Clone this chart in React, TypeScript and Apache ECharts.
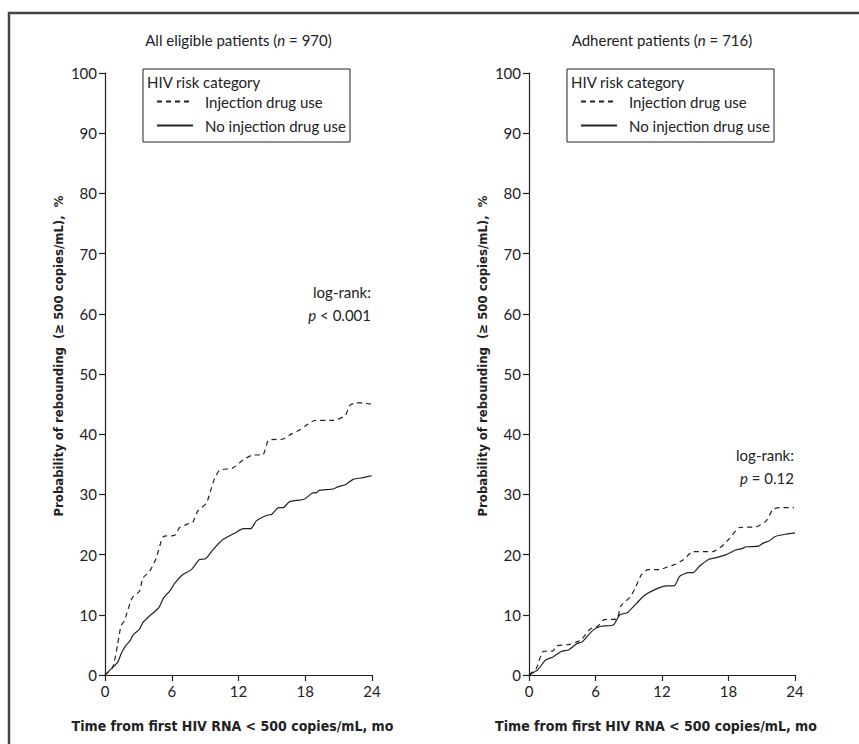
import React, { useEffect, useRef } from "react";
import * as echarts from "echarts";

// Time (months) / probability of rebounding (%)
const allIdu: [number, number][] = [
  [0, 0], [0.7, 1.3], [1.14, 5.1], [1.44, 8.2], [1.74, 9.0], [2.44, 12.8], [3.1, 13.9], [3.4, 16.1],
  [4.0, 17.2], [4.6, 19.4], [5.26, 23.0], [6.26, 23.2], [6.7, 24.5], [7.6, 25.2], [7.9, 25.4],
  [8.36, 27.3], [9.1, 28.5], [9.56, 31.0], [9.86, 32.7], [10.3, 34.0], [11.5, 34.4], [12.4, 35.7],
  [13.2, 36.5], [14.2, 36.6], [14.7, 39.0], [16.0, 39.2], [16.8, 40.1], [17.5, 40.7], [18.1, 41.5],
  [18.9, 42.3], [20.5, 42.3], [21.6, 43.1], [22.0, 44.8], [22.6, 45.2], [23.2, 45.2], [23.9, 45.0],
];
const allNoIdu: [number, number][] = [
  [0, 0], [0.7, 1.3], [1.14, 2.1], [1.44, 3.5], [1.83, 4.8], [2.26, 5.7], [2.5, 6.6], [3.1, 7.6],
  [3.4, 8.7], [4.0, 9.8], [4.84, 11.2], [5.26, 12.8], [5.8, 13.9], [6.26, 15.2], [7.0, 16.7],
  [7.76, 17.5], [8.5, 19.2], [9.05, 19.3], [9.7, 20.8], [10.6, 22.5], [11.8, 23.7], [12.4, 24.3],
  [13.1, 24.3], [13.6, 25.6], [14.5, 26.5], [15.0, 26.7], [15.6, 27.8], [16.0, 27.8], [16.6, 28.8],
  [17.9, 29.2], [18.6, 30.2], [19.0, 30.3], [19.3, 30.7], [20.5, 30.9], [21.0, 31.3], [21.6, 31.6],
  [22.3, 32.5], [23.2, 32.8], [24.0, 33.1],
];
const adhIdu: [number, number][] = [
  [0, 0], [0.66, 1.1], [1.27, 3.9], [2.17, 4.0], [2.47, 4.8], [3.7, 5.1], [4.3, 5.5], [4.7, 5.8],
  [5.5, 7.6], [6.2, 8.1], [6.8, 9.2], [7.9, 9.3], [8.3, 11.5], [9.1, 12.9], [9.55, 14.3],
  [10.15, 16.7], [10.75, 17.5], [11.8, 17.5], [12.4, 17.9], [13.2, 18.4], [13.9, 19.1], [14.8, 20.5],
  [16.6, 20.5], [17.4, 21.4], [18.1, 22.7], [19.0, 24.5], [20.5, 24.6], [21.4, 25.6], [22.0, 27.5],
  [22.6, 27.8], [23.9, 27.8],
];
const adhNoIdu: [number, number][] = [
  [0, 0], [0.8, 0.9], [1.5, 2.5], [2.17, 3.0], [2.9, 3.9], [3.6, 4.2], [4.3, 5.2], [4.8, 5.5],
  [5.8, 7.5], [6.5, 8.1], [7.6, 8.3], [8.2, 10.0], [8.9, 10.4], [9.7, 11.9], [10.4, 13.2],
  [11.5, 14.3], [12.4, 14.8], [13.1, 14.8], [13.6, 16.4], [14.4, 17.0], [14.8, 17.0], [15.4, 18.1],
  [16.2, 19.2], [16.9, 19.5], [17.8, 20.0], [18.7, 20.8], [19.2, 21.0], [19.6, 21.3], [20.7, 21.4],
  [21.1, 21.9], [21.7, 22.3], [22.2, 23.0], [23.2, 23.4], [24.0, 23.6],
];

const seriesNames = ["Injection drug use", "No injection drug use"];
const panelTitles = ["All eligible patients", "Adherent patients"];
const panelN = ["970", "716"];
const pTexts = ["p < 0.001", "p = 0.12"];
const xTitle = "Time from first HIV RNA < 500 copies/mL, mo";
const yTitle = "Probability of rebounding  (\u2265 500 copies/mL),  %";
const legendTitle = "HIV risk category";

const FONT = "Lato, 'Open Sans', sans-serif";
const BOLD_FONT = "'Liberation Sans Narrow', 'DejaVu Sans Condensed', sans-serif";
const INK = "#222";

const grids = [
  { left: 105, top: 73, width: 267, height: 602 },
  { left: 529, top: 73, width: 266, height: 602 },
];

export default function App() {
  const ref = useRef<HTMLDivElement>(null);
  useEffect(() => {
    if (!ref.current) return;
    const chart = echarts.init(ref.current, null, { renderer: "svg" });

    const xAxes = grids.map((_, i) => ({
      type: "value",
      gridIndex: i,
      min: 0,
      max: 24,
      interval: 6,
      splitLine: { show: false },
      axisLine: { lineStyle: { color: INK, width: 1.2 } },
      axisTick: { show: true, length: 6, lineStyle: { color: INK, width: 1.2 } },
      axisLabel: { color: INK, fontSize: 15, fontFamily: FONT, margin: 8 },
    }));
    const yAxes = grids.map((_, i) => ({
      type: "value",
      gridIndex: i,
      min: 0,
      max: 100,
      interval: 10,
      splitLine: { show: false },
      axisLine: { show: true, lineStyle: { color: INK, width: 1.2 } },
      axisTick: { show: true, length: 6, lineStyle: { color: INK, width: 1.2 } },
      axisLabel: { color: INK, fontSize: 15, fontFamily: FONT, margin: 8 },
    }));

    const mk = (name: string, data: [number, number][], idx: number, dashed: boolean) => ({
      type: "line",
      name,
      xAxisIndex: idx,
      yAxisIndex: idx,
      data,
      symbol: "none",
      showSymbol: false,
      smooth: 0.2,
      lineStyle: { color: INK, width: 1.2, type: dashed ? [5, 4] : "solid" },
      itemStyle: { color: INK },
    });

    const graphic: any[] = [
      {
        type: "rect",
        shape: { x: 9, y: 13, width: 880, height: 780 },
        style: { fill: "none", stroke: "#444", lineWidth: 2.5 },
        silent: true,
      },
    ];
    grids.forEach((g, i) => {
      const cx = g.left + g.width / 2;
      graphic.push({
        type: "text",
        x: cx,
        y: 40,
        style: {
          text: `${panelTitles[i]} ({i|n} = ${panelN[i]})`,
          fontSize: 15,
          fontFamily: FONT,
          fill: INK,
          align: "center",
          verticalAlign: "middle",
          rich: { i: { fontStyle: "italic", fontSize: 15, fontFamily: FONT, fill: INK } },
        },
      });
      // legend box + title
      graphic.push({
        type: "rect",
        shape: { x: g.left + 38, y: 69, width: 207, height: 73 },
        style: { fill: "none", stroke: INK, lineWidth: 1 },
      });
      graphic.push({
        type: "text",
        x: g.left + 42,
        y: 82,
        style: { text: legendTitle, fontSize: 15, fontFamily: FONT, fill: INK, verticalAlign: "middle" },
      });
      // y axis title
      graphic.push({
        type: "text",
        x: g.left - 47,
        y: 356,
        rotation: Math.PI / 2,
        style: {
          text: yTitle,
          fontSize: 13,
          fontWeight: "bold",
          fontFamily: BOLD_FONT,
          fill: INK,
          align: "center",
          verticalAlign: "middle",
        },
      });
      // x axis title
      graphic.push({
        type: "text",
        x: cx - 6,
        y: 726,
        style: {
          text: xTitle,
          fontSize: 14,
          fontWeight: "bold",
          fontFamily: BOLD_FONT,
          fill: INK,
          align: "center",
          verticalAlign: "middle",
        },
      });
    });
    // log-rank annotations
    const annY = [292, 455];
    grids.forEach((g, i) => {
      const rx = g.left + g.width - 1;
      graphic.push({
        type: "text",
        x: rx,
        y: annY[i],
        style: { text: "log-rank:", fontSize: 15, fontFamily: FONT, fill: INK, align: "right", verticalAlign: "middle" },
      });
      const [p, rest] = [pTexts[i].slice(0, 1), pTexts[i].slice(1)];
      graphic.push({
        type: "text",
        x: rx,
        y: annY[i] + 23,
        style: {
          text: `{i|${p}}${rest}`,
          fontSize: 15,
          fontFamily: FONT,
          fill: INK,
          align: "right",
          verticalAlign: "middle",
          rich: { i: { fontStyle: "italic", fontSize: 15, fontFamily: FONT, fill: INK } },
        },
      });
    });

    const legends = grids.map((g) => ({
      orient: "vertical",
      left: g.left + 46,
      top: 89,
      itemGap: 9,
      itemWidth: 36,
      itemHeight: 14,
      data: seriesNames,
      selectedMode: false,
      itemStyle: { opacity: 0 },
      textStyle: { fontSize: 15, fontFamily: FONT, color: INK, lineHeight: 14, padding: [0, 0, 0, 7] },
    }));

    chart.setOption({
      animation: false,
      backgroundColor: "#fff",
      grid: grids,
      xAxis: xAxes,
      yAxis: yAxes,
      legend: legends,
      series: [
        mk(seriesNames[0], allIdu, 0, true),
        mk(seriesNames[1], allNoIdu, 0, false),
        mk(seriesNames[0], adhIdu, 1, true),
        mk(seriesNames[1], adhNoIdu, 1, false),
      ],
      graphic,
    });
    return () => chart.dispose();
  }, []);
  return (
    <div
      ref={ref}
      style={{ position: "fixed", left: 0, top: 0, width: 859, height: 744, background: "#fff" }}
    />
  );
}
